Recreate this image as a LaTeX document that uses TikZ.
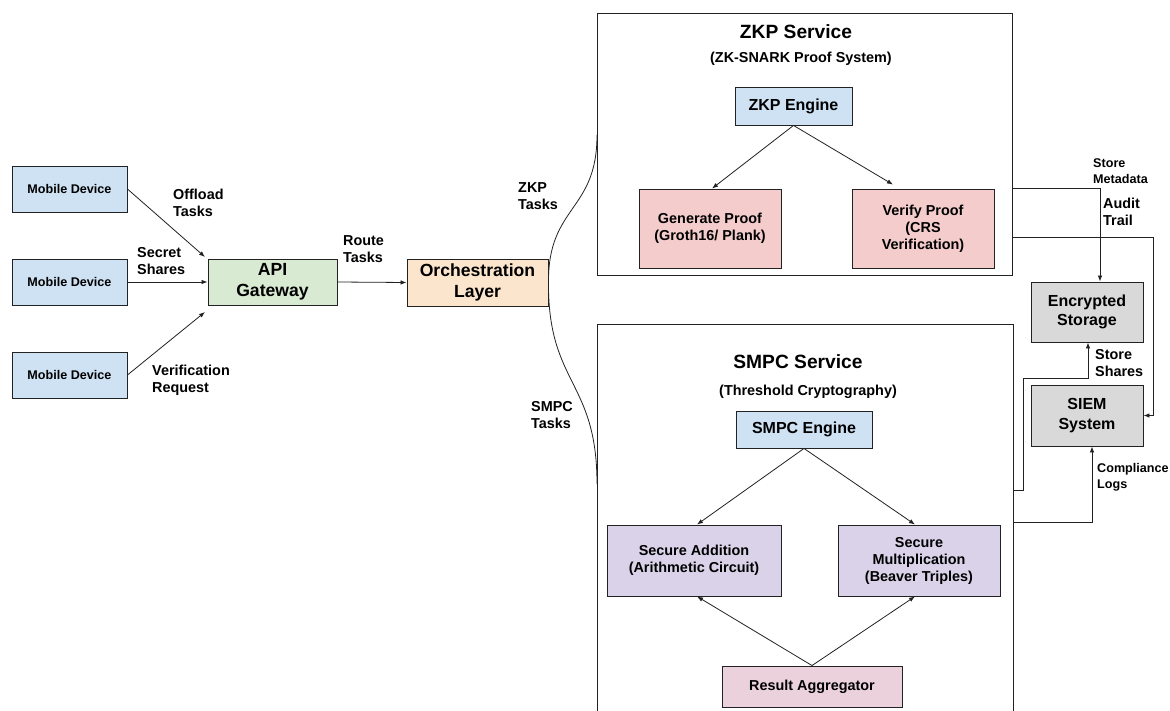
\documentclass[tikz,border=0pt]{standalone}
\usepackage{fontspec}
\setmainfont{Liberation Sans}
\usetikzlibrary{arrows.meta,calc}
\definecolor{cblue}{HTML}{CFE2F3}
\definecolor{cgreen}{HTML}{D9EAD3}
\definecolor{corange}{HTML}{FCE5CD}
\definecolor{cred}{HTML}{F4CCCC}
\definecolor{cpurple}{HTML}{D9D2E9}
\definecolor{cpink}{HTML}{EAD1DC}
\definecolor{cgray}{HTML}{D9D9D9}
\definecolor{cline}{HTML}{222222}
\tikzset{
  box/.style={draw=cline, line width=0.9pt, inner sep=0pt, align=center},
  fsmall/.style={font=\fontsize{12.6}{15.5}\selectfont\bfseries},
  fmid/.style={font=\fontsize{14.4}{17}\selectfont\bfseries},
  fbig/.style={font=\fontsize{16}{19.5}\selectfont\bfseries},
  flarge/.style={font=\fontsize{17.6}{21}\selectfont\bfseries},
  ftitle/.style={font=\fontsize{19.2}{23}\selectfont\bfseries},
  lbl/.style={inner sep=0pt, align=left, anchor=west},
  conn/.style={draw=cline, line width=0.8pt},
  arr/.style={conn, -{Latex[length=6pt,width=4.5pt]}},
}
\begin{document}
\begin{tikzpicture}[x=1pt,y=-1pt]
\fill[white] (0,0) rectangle (1170,711);
\useasboundingbox (0,0) rectangle (1170,711);

% mobile devices
\node[box, fill=cblue, fsmall, minimum width=115pt, minimum height=46pt] (m1) at (69.5,189) {Mobile Device};
\node[box, fill=cblue, fsmall, minimum width=115pt, minimum height=46pt] (m2) at (69.5,282) {Mobile Device};
\node[box, fill=cblue, fsmall, minimum width=115pt, minimum height=46pt] (m3) at (69.5,375) {Mobile Device};

% gateway & orchestration
\node[box, fill=cgreen, flarge, minimum width=129pt, minimum height=46pt] (api) at (272.5,282) {API\\Gateway};
\node[box, fill=corange, flarge, minimum width=141pt, minimum height=47pt] (orch) at (477.5,282.5) {Orchestration\\Layer};

% ZKP service
\node[box, minimum width=415pt, minimum height=262pt] (zkp) at (804.5,144) {};
\node[ftitle, inner sep=0pt] (zkpt) at (796,32) {ZKP Service};
\node[fmid, inner sep=0pt] (zkps) at (801,59) {(ZK-SNARK Proof System)};
\node[box, fill=cblue, fbig, minimum width=117pt, minimum height=38pt] (zeng) at (793.5,106) {ZKP Engine};
\node[box, fill=cred, fmid, minimum width=142pt, minimum height=79pt] (gen) at (710,228.5) {Generate Proof\\(Groth16/ Plank)};
\node[box, fill=cred, fmid, minimum width=142pt, minimum height=79pt] (ver) at (923,228.5) {Verify Proof\\(CRS\\Verification)};

% SMPC service (extends beyond the bottom edge)
\begin{scope}
\clip (0,0) rectangle (1170,711);
\node[box, minimum width=416pt, minimum height=400pt] (smpc) at (805,524) {};
\end{scope}
\node[ftitle, inner sep=0pt] (smpct) at (798,362) {SMPC Service};
\node[fmid, inner sep=0pt] (smpcs) at (808,392) {(Threshold Cryptography)};
\node[box, fill=cblue, fbig, minimum width=136pt, minimum height=37pt] (seng) at (804,429.5) {SMPC Engine};
\node[box, fill=cpurple, fmid, minimum width=174pt, minimum height=71pt] (add) at (694,560.5) {Secure Addition\\(Arithmetic Circuit)};
\node[box, fill=cpurple, fmid, minimum width=162pt, minimum height=71pt] (mult) at (919,560.5) {Secure\\Multiplication\\(Beaver Triples)};
\node[box, fill=cpink, fmid, minimum width=180pt, minimum height=41pt] (agg) at (812,686.5) {Result Aggregator};

% storage & SIEM
\node[box, fill=cgray, fbig, minimum width=112pt, minimum height=60pt] (enc) at (1087,312) {Encrypted\\Storage};
\node[box, fill=cgray, fbig, minimum width=112pt, minimum height=61pt] (siem) at (1087,415.5) {SIEM\\System};

% coordinates
\coordinate (apiA) at (205,257);
\coordinate (apiC) at (205,312);
\coordinate (zkin) at (597,135);
\coordinate (smin) at (597,484);
\coordinate (zo1) at (1012,188);
\coordinate (zo2) at (1012,237);
\coordinate (so1) at (1013,490);
\coordinate (so2) at (1013,522);

% left connectors
\draw[arr] (m1.east) -- (apiA);
\draw[arr] (m2.east) -- (api.west);
\draw[arr] (m3.east) -- (apiC);
\draw[arr] (api.east) -- (orch.west);
\draw[conn] (orch.east) .. controls (548,205) and (597,212) .. (zkin);
\draw[conn] (orch.east) .. controls (548,385) and (597,380) .. (smin);

% ZKP internal
\draw[arr] (zeng.south) -- ([xshift=2pt]gen.north);
\draw[arr] (zeng.south) -- ([xshift=-30pt,yshift=4pt]ver.north);

% SMPC internal
\draw[arr] (seng.south) -- ([xshift=3pt]add.north);
\draw[arr] (seng.south) -- ([xshift=-4pt]mult.north);
\draw[arr] (agg.north) -- ([xshift=3pt]add.south);
\draw[arr] (agg.north) -- ([xshift=-4pt]mult.south);

% right connectors
\draw[arr] (zo1) -| ([xshift=13pt]enc.north);
\draw[arr] (zo2) -- (1153,237) |- (siem.east);
\draw[arr] (so1) -- (1023,490) -- (1023,378) -| ([xshift=1pt]enc.south);
\draw[arr] (so2) -| ([xshift=5pt]siem.south);

% labels
\node[lbl, fmid] (l1) at (173,202.5) {Offload\\Tasks};
\node[lbl, fmid] (l2) at (137,261) {Secret\\Shares};
\node[lbl, fmid] (l3) at (152,380.5) {Verification\\Request};
\node[lbl, fmid] (l4) at (343,249) {Route\\Tasks};
\node[lbl, fmid] (l5) at (518,196) {ZKP\\Tasks};
\node[lbl, fmid] (l6) at (531,415.5) {SMPC\\Tasks};
\node[lbl, fsmall] (l7) at (1093,171) {Store\\Metadata};
\node[lbl, fmid] (l8) at (1103,212) {Audit\\Trail};
\node[lbl, fmid] (l9) at (1095,363) {Store\\Shares};
\node[lbl, fsmall] (l10) at (1097,477.5) {Compliance\\Logs};
\end{tikzpicture}
\end{document}
